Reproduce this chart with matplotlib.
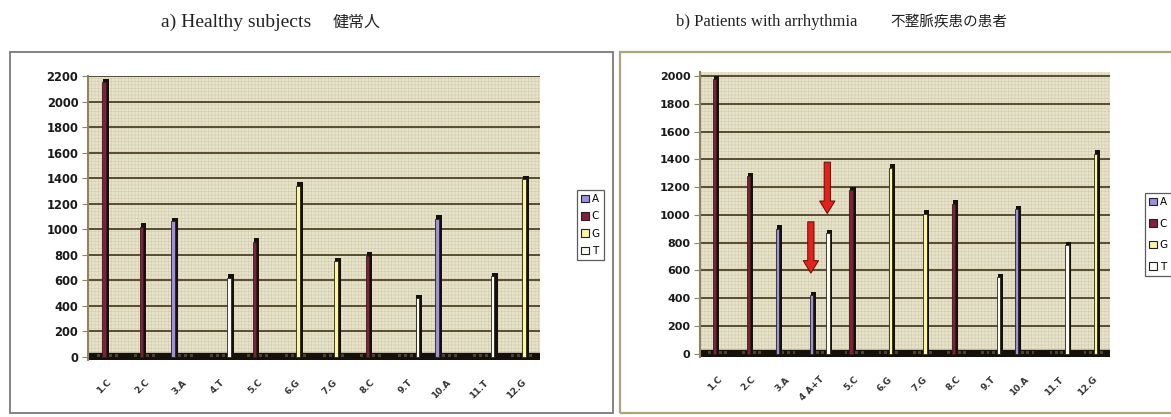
import matplotlib
matplotlib.use('Agg')
import matplotlib.pyplot as plt
from matplotlib.patches import Rectangle, Patch
import numpy as np

plt.rcParams['hatch.linewidth'] = 0.35

# ── data ─────────────────────────────────────────────────────────────────────
BASES = ['A', 'C', 'G', 'T']

healthy_labels = ['1.C', '2.C', '3.A', '4.T', '5.C', '6.G',
                  '7.G', '8.C', '9.T', '10.A', '11.T', '12.G']
healthy_A = [0, 0, 1060, 0, 0, 0, 0, 0, 0, 1080, 0, 0]
healthy_C = [2150, 1020, 0, 0, 900, 0, 0, 790, 0, 0, 0, 0]
healthy_G = [0, 0, 0, 0, 0, 1340, 750, 0, 0, 0, 0, 1390]
healthy_T = [0, 0, 0, 620, 0, 0, 0, 0, 460, 0, 630, 0]
healthy_yticks = list(range(0, 2201, 200))

patient_labels = ['1.C', '2.C', '3.A', '4 A+T', '5.C', '6.G',
                  '7.G', '8.C', '9.T', '10.A', '11.T', '12.G']
patient_A = [0, 0, 900, 420, 0, 0, 0, 0, 0, 1040, 0, 0]
patient_C = [1980, 1280, 0, 0, 1180, 0, 0, 1080, 0, 0, 0, 0]
patient_G = [0, 0, 0, 0, 0, 1340, 1010, 0, 0, 0, 0, 1440]
patient_T = [0, 0, 0, 870, 0, 0, 0, 0, 550, 0, 780, 0]
patient_yticks = list(range(0, 2001, 200))

# drops marked in sample 4 of the patient panel: (category, base, from, to)
arrow_cat = [3, 3]
arrow_base = ['A', 'T']
arrow_from = [970, 1400]
arrow_to = [560, 990]

# ── style ────────────────────────────────────────────────────────────────────
COLORS = {'A': '#9b90e2', 'C': '#861d3d', 'G': '#fbf6a4', 'T': '#fbfbf6'}
WALL = '#e7e3cb'
HATCH = '#cfcaa9'
GRID = '#4d4126'
SIDE = '#15110a'
W, H = 1171, 417


def px_axes(x0, x1, y_top, y_bot):
    return fig.add_axes([x0 / W, (H - y_bot) / H, (x1 - x0) / W, (y_bot - y_top) / H])


def draw_panel(ax, series, labels, yticks, ymax, tick_fs):
    n = len(labels)
    group = 0.64
    slot = group / 4
    ax.set_xlim(-0.5, n - 0.5)
    ax.set_ylim(-ymax * 0.012, ymax)
    ax.set_facecolor('none')

    # back wall with fine texture
    ax.add_patch(Rectangle((0, 0), 1, 1, transform=ax.transAxes, facecolor=WALL,
                           edgecolor=HATCH, hatch='+++++', linewidth=0, zorder=0))
    for yv in yticks[1:]:
        ax.axhline(yv, color=GRID, linewidth=1.3, zorder=1)
    # floor
    ax.axhspan(-ymax * 0.012, ymax * 0.014, color=SIDE, zorder=2)

    dy = ymax * 0.012
    for k, base in enumerate(BASES):
        vals = np.array(series[base], dtype=float)
        xs = np.arange(n) + (k - 1.5) * slot
        mask = vals > 0
        # dark side + cap behind the front face
        ax.bar(xs[mask] - 0.02, vals[mask] + dy, width=slot * 0.95, align='edge',
               color=SIDE, linewidth=0, zorder=3)
        ax.bar(xs[mask] - 0.045, vals[mask], width=slot * 0.6, align='edge',
               color=COLORS[base], edgecolor='#2a2418', linewidth=0.6, zorder=4)
        # zero-valued columns show as faint ticks on the floor
        ax.bar(xs[~mask] - 0.03, np.full((~mask).sum(), dy * 0.9), width=slot * 0.5,
               align='edge', color='#4a4430', linewidth=0, zorder=3)

    ax.set_yticks(yticks)
    ax.set_yticklabels([str(v) for v in yticks], fontsize=tick_fs, fontweight='bold',
                       color='#1a1a1a')
    ax.set_xticks(np.arange(n))
    ax.set_xticklabels(labels, rotation=45, ha='right', va='top', rotation_mode='anchor',
                       fontsize=6.5, fontweight='bold', color='#333333')
    ax.tick_params(axis='y', length=4, width=0.8, color='#8c865e', pad=3)
    ax.tick_params(axis='x', length=0, pad=13)
    for side in ['top', 'right', 'bottom']:
        ax.spines[side].set_visible(False)
    ax.spines['left'].set_color('#8c865e')
    ax.spines['left'].set_linewidth(1.5)


fig = plt.figure(figsize=(W / 100, H / 100), dpi=100)

# panel frames
fig.add_artist(Rectangle((10 / W, 4 / H), 603 / W, 361 / H, transform=fig.transFigure,
                         fill=False, edgecolor='#7a7a7a', linewidth=1.3))
fig.add_artist(Rectangle((620 / W, 4 / H), 560 / W, 361 / H, transform=fig.transFigure,
                         fill=False, edgecolor='#a9a57c', linewidth=1.6))

ax1 = px_axes(88, 540, 76, 360)
draw_panel(ax1, {'A': healthy_A, 'C': healthy_C, 'G': healthy_G, 'T': healthy_T},
           healthy_labels, healthy_yticks, 2200, 8.3)

ax2 = px_axes(700, 1110, 72, 357)
draw_panel(ax2, {'A': patient_A, 'C': patient_C, 'G': patient_G, 'T': patient_T},
           patient_labels, patient_yticks, 2030, 8.0)

slot2 = 0.64 / 4
for c, b, y0, y1 in zip(arrow_cat, arrow_base, arrow_from, arrow_to):
    x = c + (BASES.index(b) - 1.5) * slot2 - 0.015
    ax2.annotate('', xy=(x, y1), xytext=(x, y0), zorder=6,
                 arrowprops=dict(arrowstyle='simple,head_width=1.1,head_length=0.9,tail_width=0.45',
                                 facecolor='#e3231b', edgecolor='#5a0d08', linewidth=0.7))

# legends
handles = [Patch(facecolor=COLORS[b], edgecolor='#222222', linewidth=0.8) for b in BASES]
leg_kw = dict(loc='upper left', frameon=True, fancybox=False, fontsize=7.5,
              handlelength=0.75, handleheight=0.75, handletextpad=0.25,
              borderpad=0.4, borderaxespad=0)
leg1 = fig.legend(handles, BASES, bbox_to_anchor=(577 / W, (H - 190) / H),
                  labelspacing=0.7, **leg_kw)
leg2 = fig.legend(handles, BASES, bbox_to_anchor=(1145 / W, (H - 193) / H),
                  labelspacing=1.1, **leg_kw)
for leg in (leg1, leg2):
    leg.get_frame().set_edgecolor('#333333')
    leg.get_frame().set_linewidth(0.9)

# panel titles
serif = ['Liberation Serif', 'DejaVu Serif']
jp = ['Noto Sans CJK JP', 'DejaVu Sans']
fig.text(161 / W, (H - 22) / H, 'a) Healthy subjects', family=serif, fontsize=14,
         ha='left', va='center', color='#222222')
fig.text(333 / W, (H - 22) / H, '健常人', family=jp, fontsize=11.5,
         ha='left', va='center', color='#222222')
fig.text(676 / W, (H - 22) / H, 'b) Patients with arrhythmia', family=serif, fontsize=12,
         ha='left', va='center', color='#222222')
fig.text(890 / W, (H - 22) / H, '不整脈疾患の患者', family=jp, fontsize=10.5,
         ha='left', va='center', color='#222222')

fig.savefig('out.png', dpi=100)
